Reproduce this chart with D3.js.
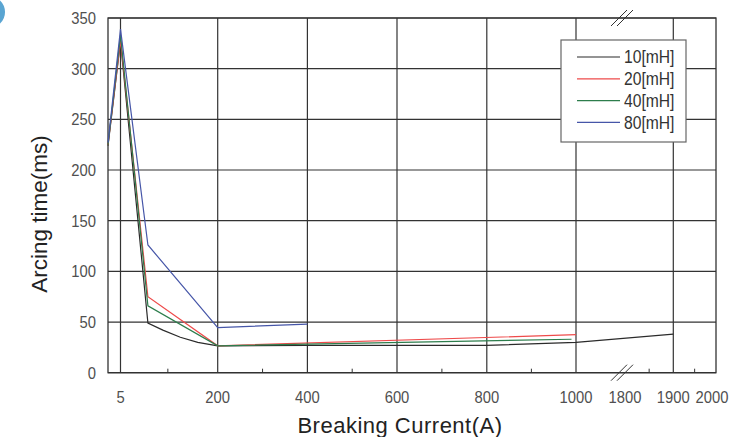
<!DOCTYPE html>
<html>
<head>
<meta charset="utf-8">
<script src="https://cdn.jsdelivr.net/npm/d3@7"></script>
<style>
  body { margin: 0; background: #fff; }
  text { font-family: "Liberation Sans", Arial, sans-serif; }
</style>
</head>
<body>
<div id="chart"></div>
<script>
const width = 735;
const height = 437;

// data (x = breaking current A, y = arcing time ms)
const series_names = ["10[mH]", "20[mH]", "40[mH]", "80[mH]"];
const series_colors = ["#2b2b2b", "#ee4b4b", "#2d7d4c", "#4656a8"];
const mh10 = [[0, 224], [5, 327], [60, 49], [90, 42], [125, 35], [160, 30], [200, 26.5], [400, 27], [800, 27], [1000, 30], [1900, 38]];
const mh20 = [[0, 225], [5, 328], [60, 75], [200, 26.5], [1000, 37.5]];
const mh40 = [[0, 225], [5, 333], [60, 66], [200, 26.5], [990, 33]];
const mh80 = [[0, 227], [5, 339], [60, 126], [200, 44.5], [400, 48]];
const all_series = [mh10, mh20, mh40, mh80];

const x_labels = [5, 200, 400, 600, 800, 1000, 1800, 1900, 2000];
const x_grid = [5, 200, 400, 600, 800, 1000, 1900];
const x_minor = [100, 300, 500, 700, 900, 1850, 1950];
const y_ticks = [0, 50, 100, 150, 200, 250, 300, 350];

// plot frame
const pl = 108, pr = 716, pt = 18, pb = 372.7;
const narrow = 0.87;  // squeeze text, no narrow font installed

// broken axis: piecewise linear
const x = d3.scaleLinear()
  .domain([0, 5, 200, 400, 600, 800, 1000, 1800, 1900, 2000])
  .range([pl, 120.5, 217.7, 307.4, 397, 486.8, 576, 625, 673.3, pr]);

const y = d3.scaleLinear()
  .domain([0, 350])
  .range([pb, pt]);

const svg = d3.select("#chart").append("svg")
  .attr("width", width)
  .attr("height", height);

// decorative blue circle in the corner
svg.append("circle")
  .attr("cx", -11).attr("cy", 12).attr("r", 16)
  .attr("fill", "#5aa5d2");

// horizontal grid
svg.selectAll(".hgrid")
  .data(y_ticks)
  .enter().append("line")
  .attr("x1", pl).attr("x2", pr)
  .attr("y1", d => y(d)).attr("y2", d => y(d))
  .attr("stroke", "#333").attr("stroke-width", 1.2);

// vertical grid
svg.selectAll(".vgrid")
  .data(x_grid)
  .enter().append("line")
  .attr("x1", d => x(d)).attr("x2", d => x(d))
  .attr("y1", pt).attr("y2", pb)
  .attr("stroke", "#333").attr("stroke-width", 1.2);

// frame
svg.append("rect")
  .attr("x", pl).attr("y", pt)
  .attr("width", pr - pl).attr("height", pb - pt)
  .attr("fill", "none")
  .attr("stroke", "#333").attr("stroke-width", 1.3);

// minor ticks
svg.selectAll(".minor")
  .data(x_minor)
  .enter().append("line")
  .attr("x1", d => x(d)).attr("x2", d => x(d))
  .attr("y1", pb).attr("y2", pb - 4)
  .attr("stroke", "#333").attr("stroke-width", 1);

// axis break marks "//"
const brk = 622;
[pt, pb].forEach(yy => {
  [-3, 3].forEach(off => {
    svg.append("line")
      .attr("x1", brk + off - 8).attr("y1", yy + 8)
      .attr("x2", brk + off + 8).attr("y2", yy - 8)
      .attr("stroke", "#333").attr("stroke-width", 1);
  });
});

// y tick labels
svg.selectAll(".ylab")
  .data(y_ticks)
  .enter().append("text")
  .attr("transform", d => `translate(96,${y(d)}) scale(${narrow},1)`)
  .attr("dy", "0.35em")
  .attr("text-anchor", "end")
  .attr("font-size", "17px")
  .attr("fill", "#505050")
  .text(d => d);

// x tick labels
svg.selectAll(".xlab")
  .data(x_labels)
  .enter().append("text")
  .attr("transform", d => `translate(${d === 2000 ? 712 : x(d)},397) scale(${narrow},1)`)
  .attr("dy", "0.35em")
  .attr("text-anchor", "middle")
  .attr("font-size", "17px")
  .attr("fill", "#505050")
  .text(d => d);

// axis titles
svg.append("text")
  .attr("x", 400).attr("y", 433)
  .attr("text-anchor", "middle")
  .attr("font-size", "22px")
  .attr("letter-spacing", "0.5px")
  .attr("fill", "#222")
  .text("Breaking Current(A)");

svg.append("text")
  .attr("transform", "translate(47,214) rotate(-90)")
  .attr("text-anchor", "middle")
  .attr("font-size", "22.5px")
  .attr("fill", "#222")
  .text("Arcing time(ms)");

// series lines
const line = d3.line()
  .x(d => x(d[0]))
  .y(d => y(d[1]));

all_series.forEach((s, i) => {
  svg.append("path")
    .datum(s)
    .attr("d", line)
    .attr("fill", "none")
    .attr("stroke", series_colors[i])
    .attr("stroke-width", 1.2);
});

// legend
const legend = svg.append("g")
  .attr("transform", "translate(561,40)");

legend.append("rect")
  .attr("width", 125).attr("height", 102)
  .attr("fill", "#fff")
  .attr("stroke", "#666").attr("stroke-width", 1.2);

series_names.forEach((name, i) => {
  const yy = 17 + i * 21.8;
  legend.append("line")
    .attr("x1", 16).attr("x2", 59)
    .attr("y1", yy).attr("y2", yy)
    .attr("stroke", series_colors[i]).attr("stroke-width", 1.2);
  legend.append("text")
    .attr("transform", `translate(63,${yy}) scale(${narrow},1)`)
    .attr("dy", "0.36em")
    .attr("font-size", "18px")
    .attr("fill", "#333")
    .text(name);
});
</script>
</body>
</html>
